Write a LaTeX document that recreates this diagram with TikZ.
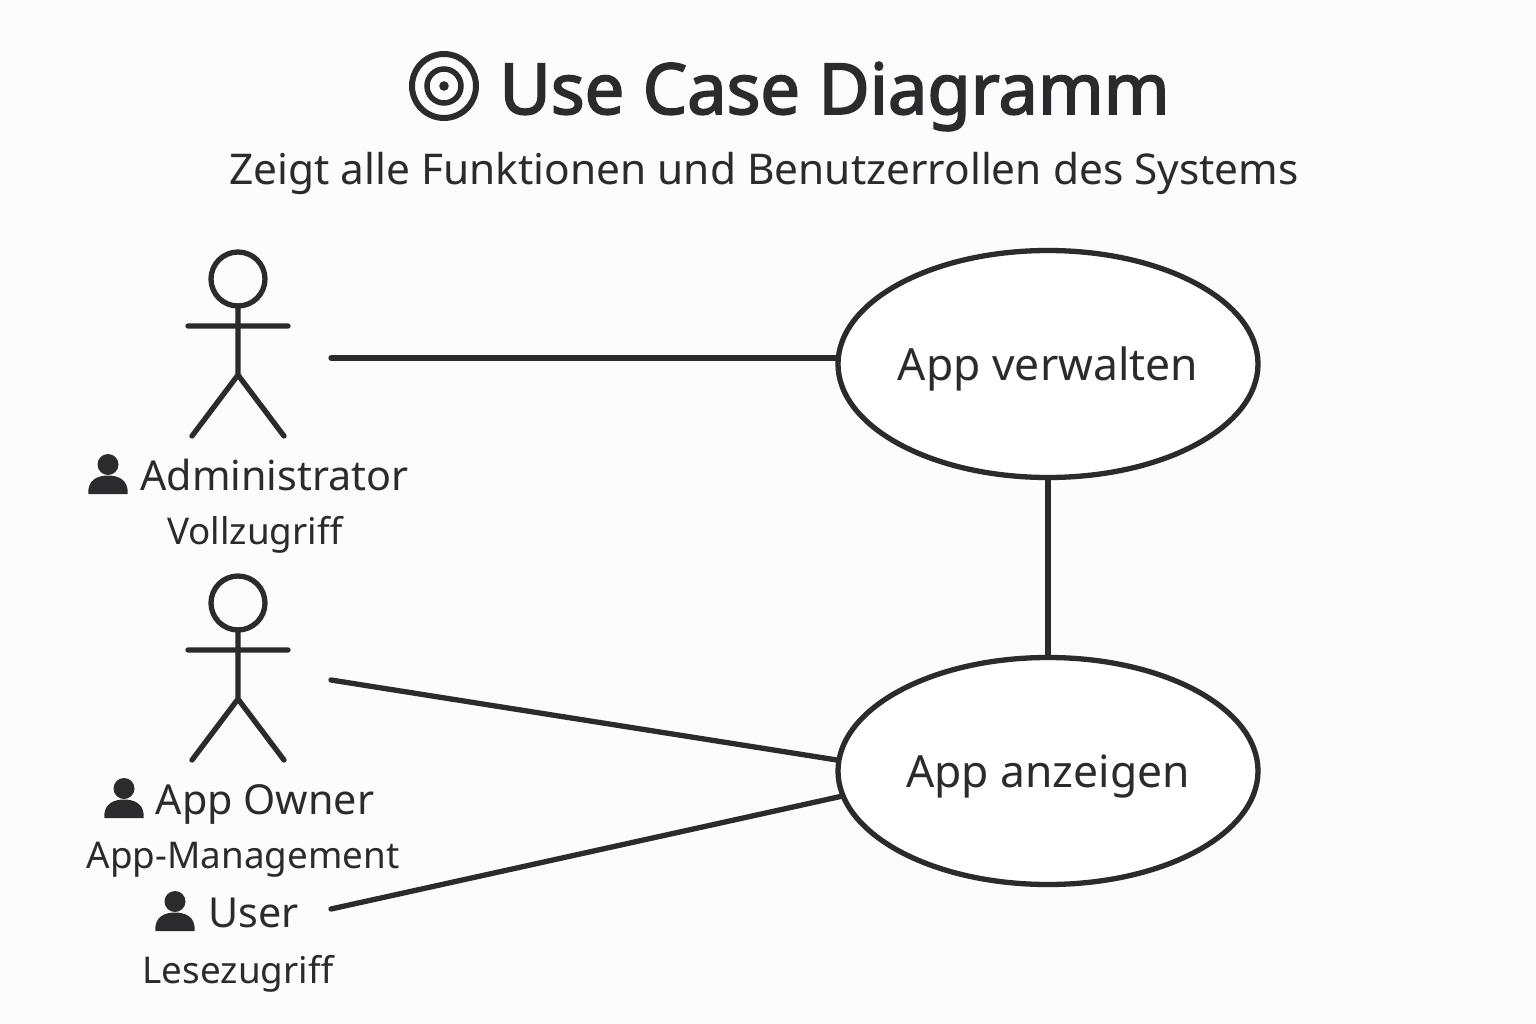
\documentclass[tikz,border=0pt]{standalone}
\usepackage{fontspec}
\setmainfont{Noto Sans}
\newfontfamily\titlefont[FakeBold=2.5]{Noto Sans}
\usetikzlibrary{shapes.geometric}
\definecolor{ink}{HTML}{2B2B2E}
\definecolor{paper}{HTML}{FCFCFC}
\newcommand{\fs}[1]{\fontsize{#1pt}{#1pt}\selectfont}
\newcommand{\casetext}[1]{\raisebox{-16.5pt}[0pt][0pt]{\makebox[0pt]{#1}}}
\tikzset{
  x=1pt,y=-1pt,
  inkline/.style={draw=ink,line width=5.3pt,line cap=round,line join=round},
  usecase/.style={ellipse,draw=ink,line width=5.3pt,fill=white,text=ink,minimum width=420pt,minimum height=227pt,inner sep=0pt,font=\fs{44.4}},
  label/.style={text=ink,inner sep=0pt,anchor=base},
  rolename/.style={label,font=\fs{41.3}},
  rolenote/.style={label,font=\fs{36.8}},
  actorfig/.pic={
    \draw[inkline] (0,-47) circle (27);
    \draw[inkline] (0,-20) -- (0,49) (-50,0) -- (50,0) (-46,110) -- (0,49) -- (46,110);
  },
  personicon/.pic={
    \fill[ink] (0,-9.5) circle (10.5);
    \fill[ink] (-19.5,20) .. controls (-21,5) and (-9,1.5) .. (0,1.5) .. controls (9,1.5) and (21,5) .. (19.5,20) -- cycle;
  }
}
\begin{document}
\begin{tikzpicture}
\useasboundingbox (0,0) rectangle (1536,1024);
\fill[paper] (0,0) rectangle (1536,1024);
% title
\draw[ink,line width=6pt] (444,86) circle (32);
\draw[ink,line width=5.5pt] (444,86) circle (17);
\fill[ink] (444,86) circle (4.8);
\node[label,font={\fs{70.4}\titlefont}] (title) at (834.5,114) {Use Case Diagramm};
\node[label,font=\fs{42.4}] (subtitle) at (764,184.5) {Zeigt alle Funktionen und Benutzerrollen des Systems};
% actors
\pic at (238,326) {actorfig};
\pic at (238,650) {actorfig};
\pic at (108,474) {personicon};
\pic at (124,798) {personicon};
\pic at (175,911) {personicon};
\node[rolename] (admin) at (274.5,490) {Administrator};
\node[rolenote] (adminnote) at (255,544) {Vollzugriff};
\node[rolename] (owner) at (265,814) {App Owner};
\node[rolenote] (ownernote) at (243,868) {App-Management};
\node[rolename] (user) at (253.5,927) {User};
\node[rolenote] (usernote) at (238,983) {Lesezugriff};
% use cases
\node[usecase] (verwalten) at (1048,364) {\casetext{App verwalten}};
\node[usecase] (anzeigen) at (1048,771) {\casetext{App anzeigen}};
% connectors
\coordinate (adminend) at (331,358);
\coordinate (ownerend) at (331,680);
\coordinate (userend) at (331,909);
\draw[inkline] (adminend) -- (adminend -| verwalten.west);
\draw[inkline] (ownerend) -- (anzeigen.177.7);
\draw[inkline] (userend) -- (anzeigen.187.3);
\draw[inkline] (verwalten.south) -- (anzeigen.north);
\end{tikzpicture}
\end{document}
